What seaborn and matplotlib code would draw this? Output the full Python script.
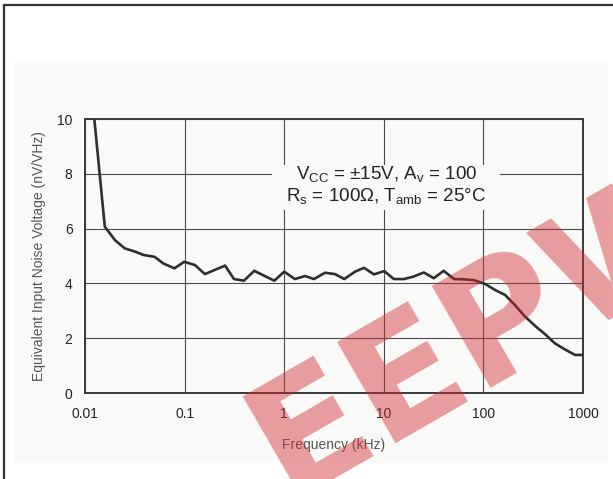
import matplotlib
matplotlib.use("Agg")
import matplotlib.pyplot as plt
import seaborn as sns
import pandas as pd
from matplotlib.patches import Rectangle
from matplotlib.lines import Line2D

# values
freq_khz = [0.0124, 0.0158, 0.020, 0.025, 0.0318, 0.0385, 0.050, 0.061, 0.079, 0.099,
            0.127, 0.160, 0.200, 0.255, 0.313, 0.394, 0.50, 0.63, 0.796, 1.0,
            1.28, 1.62, 1.99, 2.57, 3.24, 4.01, 5.14, 6.33, 7.95, 10.1,
            12.6, 15.9, 19.9, 25.2, 31.7, 39.9, 50.7, 63, 80, 104,
            131, 165, 207, 262, 330, 415, 523, 659, 831, 1000]
noise_nv = [10.0, 6.07, 5.58, 5.28, 5.16, 5.04, 4.97, 4.73, 4.55, 4.79,
            4.67, 4.34, 4.49, 4.65, 4.16, 4.10, 4.46, 4.28, 4.10, 4.43,
            4.16, 4.27, 4.16, 4.39, 4.34, 4.16, 4.43, 4.57, 4.33, 4.45,
            4.16, 4.16, 4.25, 4.40, 4.19, 4.46, 4.16, 4.15, 4.12, 3.98,
            3.76, 3.58, 3.21, 2.79, 2.45, 2.15, 1.81, 1.59, 1.39, 1.39]
x_ticks = [0.01, 0.1, 1, 10, 100, 1000]
x_tick_labels = ["0.01", "0.1", "1", "10", "100", "1000"]
y_ticks = [0, 2, 4, 6, 8, 10]

df = pd.DataFrame({"freq": freq_khz, "noise": noise_nv})

sns.set_theme(style="whitegrid")
plt.rcParams['font.family'] = ['Liberation Sans', 'DejaVu Sans']

bg = '#f9f9f7'
fig = plt.figure(figsize=(6.13, 4.79), dpi=100)
fig.patch.set_facecolor('white')

# light panel behind the chart
fig.patches.append(Rectangle((0.0228, 0.0334), 0.969, 0.839, transform=fig.transFigure,
                             facecolor=bg, edgecolor='none', zorder=-5))
# outer border (top and left)
fig.lines.append(Line2D([0.0065, 1.0], [0.9896, 0.9896], transform=fig.transFigure,
                        color='#333333', lw=1.6, zorder=-4))
fig.lines.append(Line2D([0.0065, 0.0065], [0.0, 0.9896], transform=fig.transFigure,
                        color='#333333', lw=1.6, zorder=-4))

ax = fig.add_axes([0.1387, 0.1795, 0.8124, 0.572])
ax.set_facecolor(bg)

sns.lineplot(data=df, x="freq", y="noise", ax=ax, color='#2e2e2e', lw=1.9, zorder=3)

ax.set_xscale('log')
ax.set_xlim(0.01, 1000)
ax.set_ylim(0, 10)
ax.set_xticks(x_ticks)
ax.set_xticklabels(x_tick_labels)
ax.set_yticks(y_ticks)
ax.minorticks_off()
ax.grid(True, which='major', color='#4a4a4a', lw=0.8)
ax.tick_params(axis='both', length=0, labelsize=10, labelcolor='#222222')
ax.tick_params(axis='y', pad=9)
ax.tick_params(axis='x', pad=10)

for s in ax.spines.values():
    s.set_visible(True)
    s.set_color('#3a3a3a')
    s.set_linewidth(1.4)

ax.set_xlabel("Frequency (kHz)", fontsize=10, color='#555555', labelpad=12)
ax.set_ylabel("Equivalent Input Noise Voltage (nV/VHz)", fontsize=10, color='#555555', labelpad=8)

# box hiding the grid behind the conditions text
ax.add_patch(Rectangle((0.375, 0.668), 0.458, 0.164, transform=ax.transAxes,
                       facecolor=bg, edgecolor='none', zorder=1))
ax.text(0.605, 0.80, r"$\mathregular{V_{CC}}$ = ±15V, $\mathregular{A_v}$ = 100",
        transform=ax.transAxes, ha='center', va='center', fontsize=13.5, color='#222222', zorder=4)
ax.text(0.605, 0.72, r"$\mathregular{R_s}$ = 100Ω, $\mathregular{T_{amb}}$ = 25°C",
        transform=ax.transAxes, ha='center', va='center', fontsize=13.5, color='#222222', zorder=4)

# watermark
fig.text(0.795, 0.31, "EEPW", rotation=30, ha='center', va='center', fontsize=116,
         fontweight='heavy', color='#d22a2e', alpha=0.45, zorder=10,
         family='DejaVu Sans')

fig.savefig("out.png", dpi=100, facecolor=fig.get_facecolor())
